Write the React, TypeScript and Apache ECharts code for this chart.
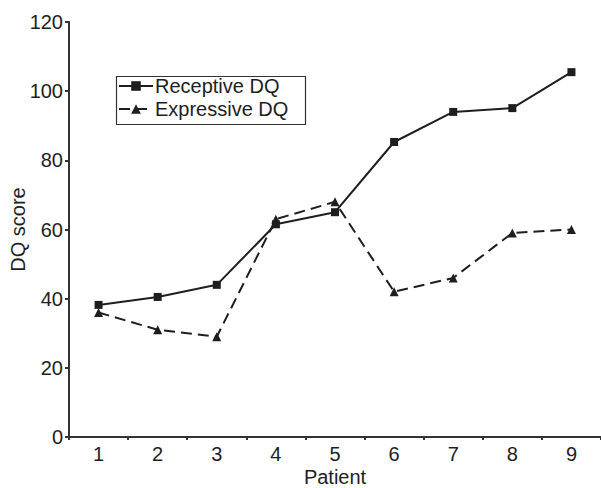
import React, { useEffect, useRef } from "react";
import * as echarts from "echarts";

const patients = ["1", "2", "3", "4", "5", "6", "7", "8", "9"];
const receptiveDQ = [38.2, 40.5, 44, 61.5, 65, 85.3, 94, 95.1, 105.5];
const expressiveDQ = [36, 31, 29, 63, 68, 42, 46, 59, 60];
const seriesNames = ["Receptive DQ", "Expressive DQ"];

const FONT = "'Liberation Sans', Arial, Helvetica, sans-serif";
const INK = "#1e1e1e";
const FS = 20;

export default function App() {
  const ref = useRef<HTMLDivElement>(null);
  useEffect(() => {
    if (!ref.current) return;
    const chart = echarts.init(ref.current, null, { renderer: "svg" });
    chart.setOption({
      animation: false,
      backgroundColor: "#fff",
      textStyle: { fontFamily: FONT, color: INK },
      grid: { left: 69, right: 0, top: 22, bottom: 51, containLabel: false, outerBoundsMode: "none" },
      legend: {
        orient: "vertical",
        left: 116,
        top: 75,
        padding: [1, 2],
        itemGap: 3,
        itemWidth: 34,
        itemHeight: 12,
        textStyle: { fontSize: FS, color: INK, fontFamily: FONT, padding: [0, 0, 0, -3] },
        data: seriesNames,
      },
      graphic: [
        {
          type: "rect",
          left: 114,
          top: 74,
          shape: { width: 189, height: 48 },
          style: { fill: "none", stroke: "#333", lineWidth: 1.2 },
          silent: true,
        },
      ],
      xAxis: {
        type: "category",
        data: patients,
        boundaryGap: true,
        name: "Patient",
        nameLocation: "middle",
        nameMoveOverlap: false,
        nameGap: 30,
        nameTextStyle: { fontSize: FS, color: INK, fontFamily: FONT, lineHeight: 20 },
        axisLine: { lineStyle: { color: "#333", width: 2 } },
        axisTick: { show: true, length: 3, lineStyle: { color: "#333", width: 2 } },
        axisLabel: { fontSize: FS, color: INK, margin: 7, fontFamily: FONT },
        splitLine: { show: false },
      },
      yAxis: {
        type: "value",
        min: 0,
        max: 120,
        interval: 20,
        name: "DQ score",
        nameLocation: "middle",
        nameMoveOverlap: false,
        nameGap: 41,
        nameTextStyle: { fontSize: FS, color: INK, fontFamily: FONT, lineHeight: 20 },
        axisLine: { show: true, lineStyle: { color: "#333", width: 2 } },
        axisTick: { show: true, length: 4, lineStyle: { color: "#333", width: 2 } },
        axisLabel: { fontSize: FS, color: INK, margin: 6, fontFamily: FONT },
        splitLine: { show: false },
      },
      series: [
        {
          name: seriesNames[0],
          type: "line",
          data: receptiveDQ,
          symbol: "rect",
          symbolSize: 8,
          lineStyle: { color: INK, width: 2, type: "solid" },
          itemStyle: { color: INK },
        },
        {
          name: seriesNames[1],
          type: "line",
          data: expressiveDQ,
          symbol: "triangle",
          symbolSize: 9,
          lineStyle: { color: INK, width: 2, type: [11, 6] },
          itemStyle: { color: INK },
        },
      ],
    });
    return () => chart.dispose();
  }, []);
  return <div ref={ref} style={{ width: 601, height: 488, position: "absolute", left: 0, top: 0 }} />;
}
